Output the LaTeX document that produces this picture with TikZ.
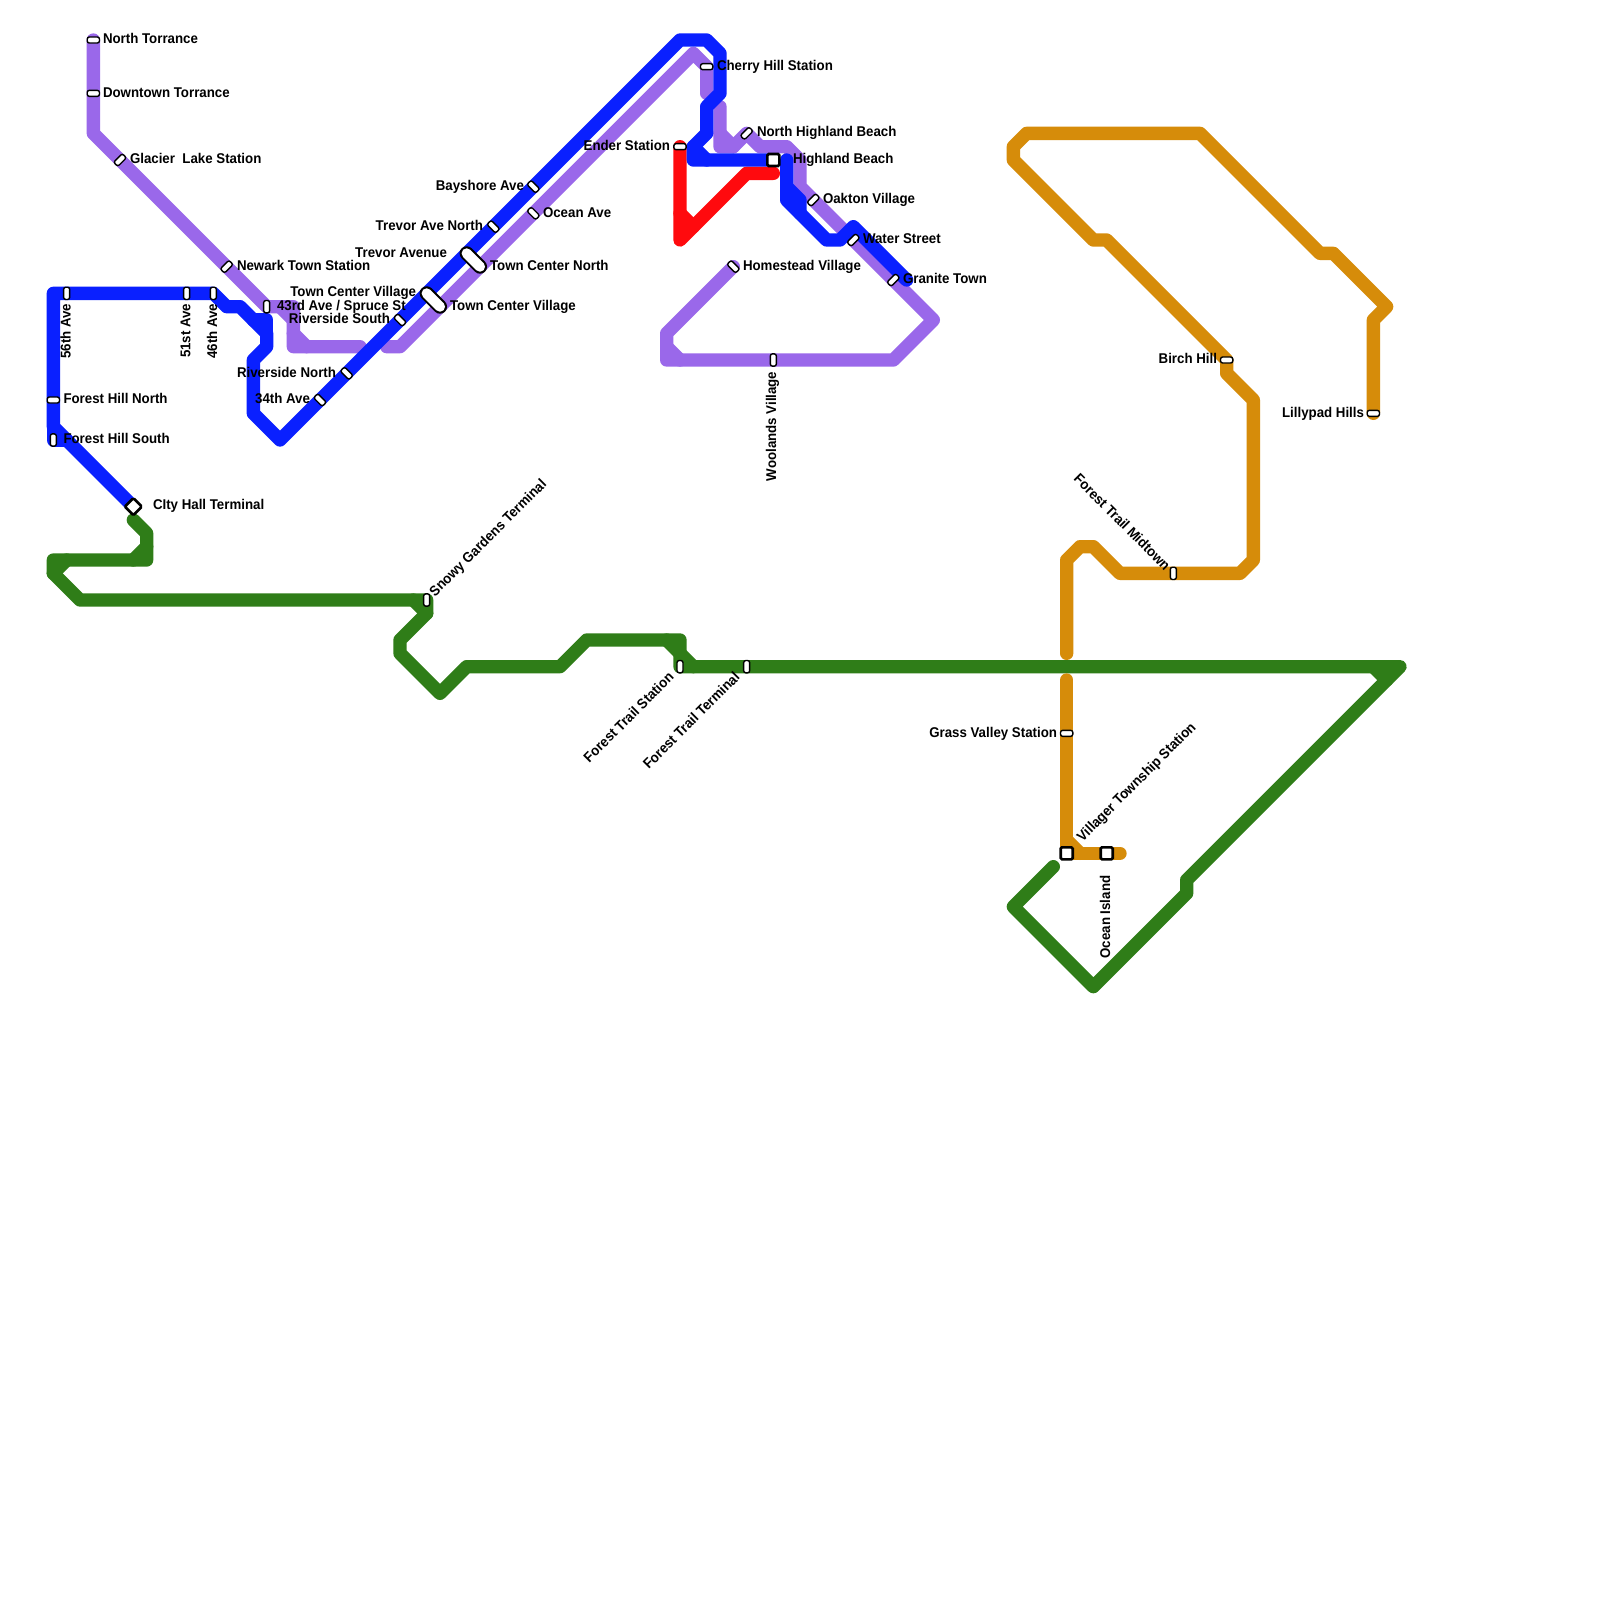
\documentclass[tikz,border=0pt]{standalone}
\usepackage{fontspec}
\setmainfont{Liberation Sans}
\newfontface\labfont[FakeStretch=0.94]{Liberation Sans Bold}
\definecolor{cpurple}{HTML}{9A68EA}
\definecolor{cblue}{HTML}{0A20FF}
\definecolor{cred}{HTML}{FF0A0E}
\definecolor{cgreen}{HTML}{2F7D18}
\definecolor{corange}{HTML}{D68C0A}
\tikzset{
  metro/.style={line width=10pt,line cap=round,line join=round},
  lp/.style={metro,draw=cpurple},
  lb/.style={metro,draw=cblue},
  lr/.style={metro,draw=cred},
  lg/.style={metro,draw=cgreen},
  lo/.style={metro,draw=corange},
  halt/.style={draw=black,fill=white,line width=1.05pt,rounded corners=1.6pt,minimum width=4.5pt,minimum height=9.2pt,inner sep=0pt,outer sep=0pt},
  hub/.style={draw=black,fill=white,line width=2pt,rounded corners=1pt,minimum width=9pt,minimum height=9pt,inner sep=0pt,outer sep=0pt},
  lab/.style={font=\labfont\fontsize{10.6pt}{12pt}\selectfont,text=black,inner sep=0pt,outer sep=0pt,yshift=-0.5pt},
  w/.style={lab,anchor=west},
  e/.style={lab,anchor=east},
}
\begin{document}
\begin{tikzpicture}[x=10pt,y=-10pt]
\useasboundingbox[fill=white] (0,0) rectangle (120,120);
% purple
\draw[lp] (7,3)--(7,10)--(20,23)--(22,23)--(22,26)--(27,26);
\draw[lp] (21,23)--(22,24);
\draw[lp] (22,25)--(23,26);
\draw[lp] (29,26)--(30,26)--(52,4)--(53,5)--(53,7);
\draw[lp] (54,8)--(54,11)--(55,11)--(56,10)--(57,11)--(59,11)--(60,12)--(60,14)--(70,24)--(67,27)--(50,27)--(50,25)--(55,20);
\draw[lp] (54,10)--(55,11);
\draw[lp] (50,26)--(51,27);
% red
\draw[lr] (51,11)--(51,18)--(56,13)--(58,13);
\draw[lr] (51,16)--(52,17);
% blue
\draw[lb] (10,38)--(4,32)--(4,22)--(16,22)--(17,23)--(18,23)--(20,25)--(20,26)--(19,27)--(19,31)--(21,33)--(51,3)--(53,3)--(54,4)--(54,7)--(53,8)--(53,10)--(52,11)--(52,12)--(58,12);
\draw[lb] (4,32)--(4,33)--(5,33);
\draw[lb] (19,24)--(20,24)--(20,25);
\draw[lb] (52,11)--(53,12);
\draw[lb] (59,12)--(59,15)--(62,18)--(63,18)--(64,17)--(68,21);
\draw[lb] (59,14)--(60,15)--(60,16);
% green
\draw[lg] (10,39)--(11,40)--(11,42)--(4,42)--(4,43)--(6,45)--(32,45)--(32,46)--(30,48)--(30,49)--(33,52)--(35,50)--(42,50)--(44,48)--(51,48)--(51,50)--(105,50)--(89,66)--(89,67)--(82,74)--(76,68)--(79,65);
\draw[lg] (11,41)--(10,42);
\draw[lg] (5,42)--(4,43);
\draw[lg] (31,45)--(32,46);
\draw[lg] (50,48)--(52,50);
\draw[lg] (103,50)--(104,51);
% orange
\draw[lo] (103,31)--(103,24)--(104,23)--(100,19)--(99,19)--(90,10)--(77,10)--(76,11)--(76,12)--(82,18)--(83,18)--(92,27)--(92,28)--(94,30)--(94,42)--(93,43)--(84,43)--(82,41)--(81,41)--(80,42)--(80,49);
\draw[lo] (80,51)--(80,64)--(84,64);
\draw[lo] (80,63)--(81,64);
% stations
\node[halt,rotate=90] (s1) at (7,3) {};
\node[halt,rotate=90] (s2) at (7,7) {};
\node[halt,rotate=-45] (s3) at (9,12) {};
\node[halt,rotate=-45] (s4) at (17,20) {};
\node[halt] (s5) at (20,23) {};
\node[halt] (s6) at (5,22) {};
\node[halt] (s7) at (14,22) {};
\node[halt] (s8) at (16,22) {};
\node[halt,rotate=90] (s9) at (4,30) {};
\node[halt] (s10) at (4,33) {};
\node[hub,rotate=45] (s11) at (10,38) {};
\node[halt,rotate=45] (s12) at (24,30) {};
\node[halt,rotate=45] (s13) at (26,28) {};
\node[halt,rotate=45] (s14) at (30,24) {};
\node[halt,rotate=45] (s15) at (37,17) {};
\node[halt,rotate=45] (s16) at (40,14) {};
\node[halt,rotate=45] (s17) at (40,16) {};
\draw[black,line width=10.6pt,line cap=round] (32,22)--(33,23);
\draw[white,line width=7.6pt,line cap=round] (32,22)--(33,23);
\draw[black,line width=10.6pt,line cap=round] (35,19)--(36,20);
\draw[white,line width=7.6pt,line cap=round] (35,19)--(36,20);
\node[halt,rotate=90] (s18) at (53,5) {};
\node[halt,rotate=90] (s19) at (51,11) {};
\node[halt,rotate=-45] (s20) at (56,10) {};
\node[hub] (s21) at (58,12) {};
\node[halt,rotate=-45] (s22) at (61,15) {};
\node[halt,rotate=-45] (s23) at (64,18) {};
\node[halt,rotate=-45] (s24) at (67,21) {};
\node[halt,rotate=45] (s25) at (55,20) {};
\node[halt] (s26) at (58,27) {};
\node[halt] (s27) at (32,45) {};
\node[halt] (s28) at (51,50) {};
\node[halt] (s29) at (56,50) {};
\node[halt,rotate=90] (s30) at (80,55) {};
\node[hub] (s31) at (80,64) {};
\node[hub] (s32) at (83,64) {};
\node[halt] (s33) at (88,43) {};
\node[halt,rotate=90] (s34) at (92,27) {};
\node[halt,rotate=90] (s35) at (103,31) {};
% labels
\begin{scope}[x=0.75pt,y=-0.75pt]
\node[w] (t1) at (103,38) {North Torrance};
\node[w] (t2) at (103,92) {Downtown Torrance};
\node[w] (t3) at (130,158) {Glacier\ \ Lake Station};
\node[w] (t4) at (237,265) {Newark Town Station};
\node[w] (t5) at (277,306) {43rd Ave / Spruce St};
\node[e] (t6) at (416,292) {Town Center Village};
\node[e] (t7) at (390,318) {Riverside South};
\node[e] (t8) at (336,372) {Riverside North};
\node[e] (t9) at (310,398) {34th Ave};
\node[w] (t10) at (63.5,398) {Forest Hill North};
\node[w] (t11) at (63.5,438) {Forest Hill South};
\node[w] (t12) at (153,505) {CIty Hall Terminal};
\node[e,rotate=90] (t13) at (65.5,303) {56th Ave};
\node[e,rotate=90] (t14) at (185.5,303) {51st Ave};
\node[e,rotate=90] (t15) at (212,303) {46th Ave};
\node[e] (t16) at (524,186) {Bayshore Ave};
\node[e] (t17) at (483,225) {Trevor Ave North};
\node[e] (t18) at (447,252) {Trevor Avenue};
\node[w] (t19) at (490,265) {Town Center North};
\node[w] (t20) at (450,306) {Town Center Village};
\node[w] (t21) at (543,212) {Ocean Ave};
\node[w] (t22) at (717,66) {Cherry Hill Station};
\node[e] (t23) at (670,145) {Ender Station};
\node[w] (t24) at (757,132) {North Highland Beach};
\node[w] (t25) at (793,159) {Highland Beach};
\node[w] (t26) at (823,199) {Oakton Village};
\node[w] (t27) at (863,238) {Water Street};
\node[w] (t28) at (903,278) {Granite Town};
\node[w] (t29) at (743,266) {Homestead Village};
\node[e,rotate=90] (t30) at (772.5,371) {Woolands Village};
\node[w,rotate=45] (t31) at (432.5,594) {Snowy Gardens Terminal};
\node[e,rotate=45] (t32) at (671,674) {Forest Trail Station};
\node[e,rotate=45] (t33) at (737,674) {Forest Trail Terminal};
\node[w,rotate=45] (t34) at (1080,839) {Villager Township Station};
\node[e,rotate=90] (t35) at (1105,875) {Ocean Island};
\node[e] (t36) at (1057,733) {Grass Valley Station};
\node[e] (t37) at (1217,358) {Birch Hill};
\node[e] (t38) at (1364,413) {Lillypad Hills};
\node[e,rotate=-45] (t39) at (1168,567) {Forest Trail Midtown};
\end{scope}
\end{tikzpicture}
\end{document}
